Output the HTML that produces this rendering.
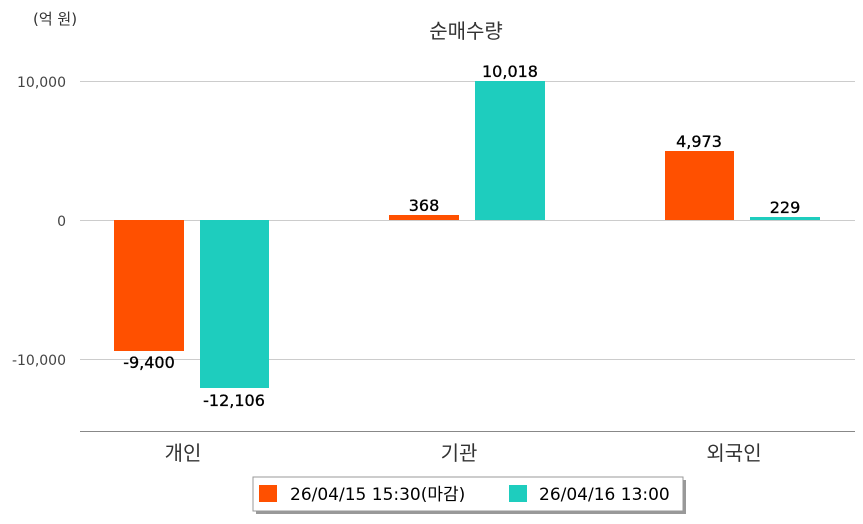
<!DOCTYPE html>
<html><head><meta charset="utf-8"><style>
body{margin:0;background:#fff;width:863px;height:520px;overflow:hidden;font-family:"DejaVu Sans","Noto Sans CJK KR",sans-serif}
</style></head><body>
<svg width="863" height="520" xmlns="http://www.w3.org/2000/svg" font-family="DejaVu Sans, Noto Sans CJK KR, sans-serif">
<text x="33" y="24" font-size="15" fill="#333">(억 원)</text>
<text x="466" y="38" font-size="20" fill="#333" text-anchor="middle">순매수량</text>
<g stroke="#ccc" stroke-width="1">
<line x1="80" y1="81.5" x2="855" y2="81.5"/>
<line x1="80" y1="220.5" x2="855" y2="220.5"/>
<line x1="80" y1="359.5" x2="855" y2="359.5"/>
</g>
<line x1="80" y1="431.5" x2="855" y2="431.5" stroke="#888" stroke-width="1"/>
<g font-size="14" fill="#444" text-anchor="end">
<text x="66" y="87">10,000</text>
<text x="66" y="226">0</text>
<text x="66" y="365">-10,000</text>
</g>
<g fill="#FF5000">
<rect x="114" y="220" width="70" height="131"/>
<rect x="389" y="215" width="70" height="5"/>
<rect x="665" y="151" width="69" height="69"/>
</g>
<g fill="#1ECDBE">
<rect x="200" y="220" width="69" height="168"/>
<rect x="475" y="81" width="70" height="139"/>
<rect x="750" y="217" width="70" height="3"/>
</g>
<g font-size="16" fill="#000" text-anchor="middle" stroke="#000" stroke-width="0.3">
<text x="149" y="368">-9,400</text>
<text x="234" y="406">-12,106</text>
<text x="424" y="211">368</text>
<text x="510" y="77">10,018</text>
<text x="699" y="147">4,973</text>
<text x="785" y="213">229</text>
</g>
<g font-size="20" fill="#333" text-anchor="middle">
<text x="183" y="460">개인</text>
<text x="459" y="460">기관</text>
<text x="734" y="460">외국인</text>
</g>
<rect x="256" y="480" width="430" height="34" fill="#999"/>
<rect x="253" y="477" width="430" height="34" fill="#fff" stroke="#999"/>
<rect x="259" y="485" width="18" height="17" fill="#FF5000"/>
<text x="290" y="500" font-size="17" fill="#000">26/04/15 15:30(마감)</text>
<rect x="509" y="485" width="18" height="17" fill="#1ECDBE"/>
<text x="539" y="500" font-size="17" fill="#000">26/04/16 13:00</text>
</svg>
</body></html>
